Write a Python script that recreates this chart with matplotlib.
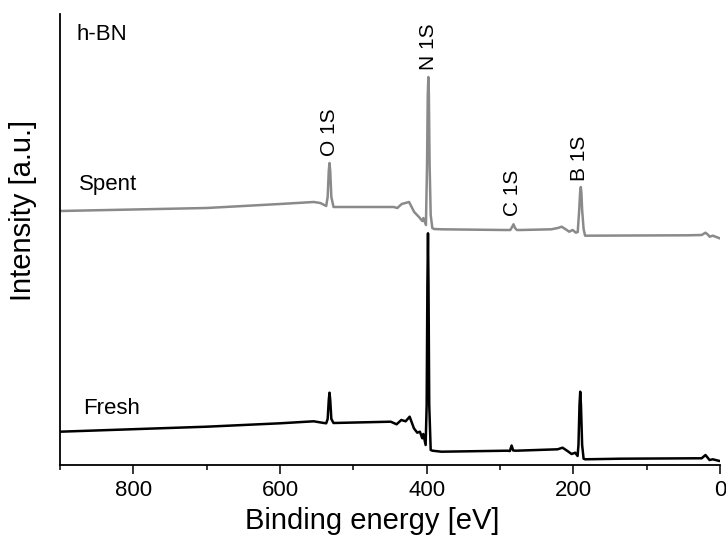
import matplotlib
matplotlib.use("Agg")
import matplotlib.pyplot as plt
from matplotlib.ticker import MultipleLocator

plt.rcParams['font.family'] = ['Liberation Sans', 'DejaVu Sans']

# XPS survey spectra of h-BN, binding energy (eV) vs intensity (a.u.)
spent_energy = [900, 700, 600, 554, 545, 537, 535, 533.5, 532.5, 531.5, 530, 527,
                500, 445, 440, 434, 429, 424, 417, 410.5, 406, 404.5, 401,
                399.5, 398.5, 397.7, 397, 396, 394.5, 392.3, 390, 380,
                294, 286, 283.5, 281.6, 279.5, 277, 271.6, 230, 221, 216, 211,
                205.6, 201, 196.5, 194, 192, 190.8, 189.8, 189, 188, 186, 184,
                120, 44, 25, 19.8, 16, 14.3, 9.8, 5, 0.6, 0]
spent_intensity = [254, 257, 261, 263, 262, 259, 268, 294, 302, 294, 268, 258,
                   258, 258, 257, 261, 262, 263, 253, 248, 244, 247, 240,
                   300, 370, 388, 370, 300, 250, 237, 236, 235.7,
                   235, 235, 238, 240.7, 237, 235, 235, 235.7, 237, 238.3, 236,
                   233.3, 235, 232.3, 233, 255, 272, 278, 272, 255, 236, 229.3,
                   229.5, 229.7, 230, 232.3, 230, 228.3, 229.3, 228, 226.7, 226.7]

fresh_energy = [900, 700, 600, 554, 542.6, 537, 535, 533.5, 532.5, 531.5, 530, 527,
                449, 441, 434.6, 428.7, 423.2, 417.4, 412.8, 409.2, 406, 404.6, 401.4,
                400, 399, 398.2, 397.5, 396.5, 394.5, 392, 380,
                290, 286.5, 284.2, 282, 278, 221.5, 214.7, 208, 202.4, 197.4, 194.2,
                193, 191.6, 190.6, 189.6, 188, 186, 184, 135, 34.8, 25, 19.8,
                14.3, 9.8, 0.6, 0]
fresh_intensity = [33.3, 38.3, 41.7, 43.7, 42.3, 41.7, 46, 65, 72.3, 65, 46, 42,
                   43.3, 40.7, 45, 43.7, 48.3, 36.7, 32.3, 33.3, 26.7, 31, 20,
                   60, 180, 231.7, 180, 60, 15, 14.3, 13.3,
                   14.3, 14, 19.5, 14.5, 14.3, 15.7, 17.3, 14, 11, 12.3, 9,
                   20, 60, 73.3, 60, 20, 6.3, 5.7, 6.3, 6.7, 6.7, 10,
                   5, 5.7, 4, 4]

peak_labels = ['O 1S', 'N 1S', 'C 1S', 'B 1S']
peak_energy = [532.5, 398, 283.5, 191]
peak_label_y = [309, 395, 249, 284]

fig = plt.figure(figsize=(7.26, 5.35), dpi=100)
ax = fig.add_axes([60 / 726, 70 / 535, 660 / 726, 451 / 535])

ax.plot(spent_energy, spent_intensity, color='#8a8a8a', lw=1.8)
ax.plot(fresh_energy, fresh_intensity, color='black', lw=1.8)

for lab, e, y in zip(peak_labels, peak_energy, peak_label_y):
    ax.text(e, y, lab, rotation=90, ha='center', va='bottom', fontsize=15)

ax.text(878, 431, 'h-BN', ha='left', va='center', fontsize=16)
ax.text(874, 280.5, 'Spent', ha='left', va='center', fontsize=16)
ax.text(868.6, 57, 'Fresh', ha='left', va='center', fontsize=16)

ax.set_xlim(900, 0)
ax.set_ylim(0, 451)
ax.xaxis.set_major_locator(MultipleLocator(200))
ax.xaxis.set_minor_locator(MultipleLocator(100))
ax.tick_params(axis='x', which='major', direction='out', length=6.5, width=1.1,
               labelsize=16, pad=4)
ax.tick_params(axis='x', which='minor', direction='out', length=3.3, width=1.1)
ax.set_yticks([])
for side in ['top', 'right']:
    ax.spines[side].set_visible(False)
for side in ['left', 'bottom']:
    ax.spines[side].set_linewidth(1.3)

ax.set_xlabel('Binding energy [eV]', fontsize=21)
ax.set_ylabel('Intensity [a.u.]', fontsize=21)
ax.xaxis.set_label_coords(0.473, -0.093)
ax.yaxis.set_label_coords(-0.035, 0.565)

fig.savefig('out.png', dpi=100)
